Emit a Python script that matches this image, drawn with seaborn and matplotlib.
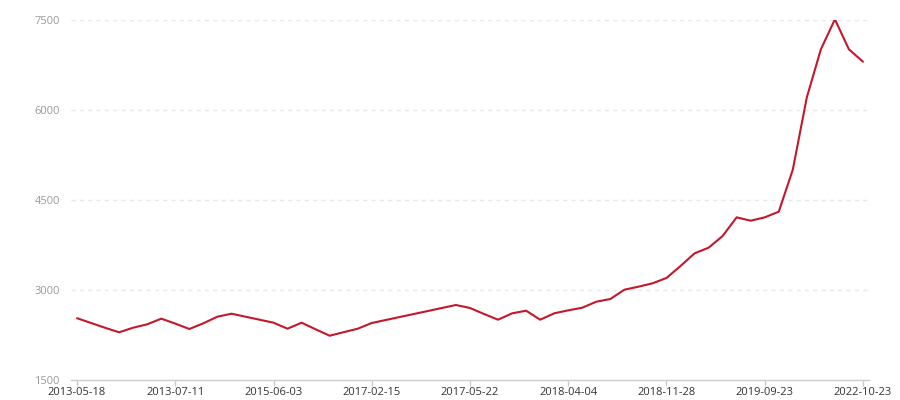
import matplotlib
matplotlib.use("Agg")
import matplotlib.pyplot as plt
import seaborn as sns
import pandas as pd

# Values (57 equally spaced categories)
values = [
    2530, 2450, 2370, 2295, 2372, 2428, 2522,
    2440, 2350, 2445, 2555, 2605, 2555, 2505,
    2455, 2355, 2455, 2345, 2238, 2297, 2355,
    2450, 2500, 2550, 2600, 2650, 2700, 2750,
    2700, 2600, 2505, 2611, 2655, 2505, 2611,
    2661, 2705, 2805, 2850, 3005, 3055, 3111,
    3200, 3400, 3611, 3705, 3900, 4211, 4155,
    4211, 4305, 5005, 6211, 7011, 7511, 7011,
    6805,
]
tick_labels = ["2013-05-18", "2013-07-11", "2015-06-03", "2017-02-15",
               "2017-05-22", "2018-04-04", "2018-11-28", "2019-09-23",
               "2022-10-23"]
y_ticks = [1500, 3000, 4500, 6000, 7500]

df = pd.DataFrame({"idx": list(range(len(values))), "value": values})

sns.set_theme(style="white")
plt.rcParams['font.family'] = ['Open Sans', 'DejaVu Sans']

fig = plt.figure(figsize=(9, 4), dpi=100)
ax = fig.add_axes([71 / 900, 0.05, (869 - 71) / 900, 0.90])

sns.lineplot(data=df, x="idx", y="value", ax=ax, color="#c4172c", linewidth=1.5)

n = len(values)
ax.set_xlim(-0.43, n - 1 + 0.43)
ax.set_ylim(1500, 7500)
ax.set_xticks(list(range(0, n, 7)))
ax.set_xticklabels(tick_labels, fontsize=8, color="#333333")
ax.set_yticks(y_ticks)
ax.set_yticklabels([str(v) for v in y_ticks], fontsize=8, color="#999999")

for v in y_ticks[1:]:
    ax.axhline(v, color="#e8e8e8", linewidth=1, linestyle=(0, (3, 3)), zorder=0)

for s in ["top", "right", "left"]:
    ax.spines[s].set_visible(False)
ax.spines["bottom"].set_color("#cccccc")
ax.spines["bottom"].set_linewidth(1)
ax.tick_params(axis="x", length=4, width=1, color="#cccccc", pad=1, bottom=True)
ax.tick_params(axis="y", length=0, pad=8)
ax.set_xlabel("")
ax.set_ylabel("")
ax.grid(False)

fig.savefig("out.png", dpi=100)
